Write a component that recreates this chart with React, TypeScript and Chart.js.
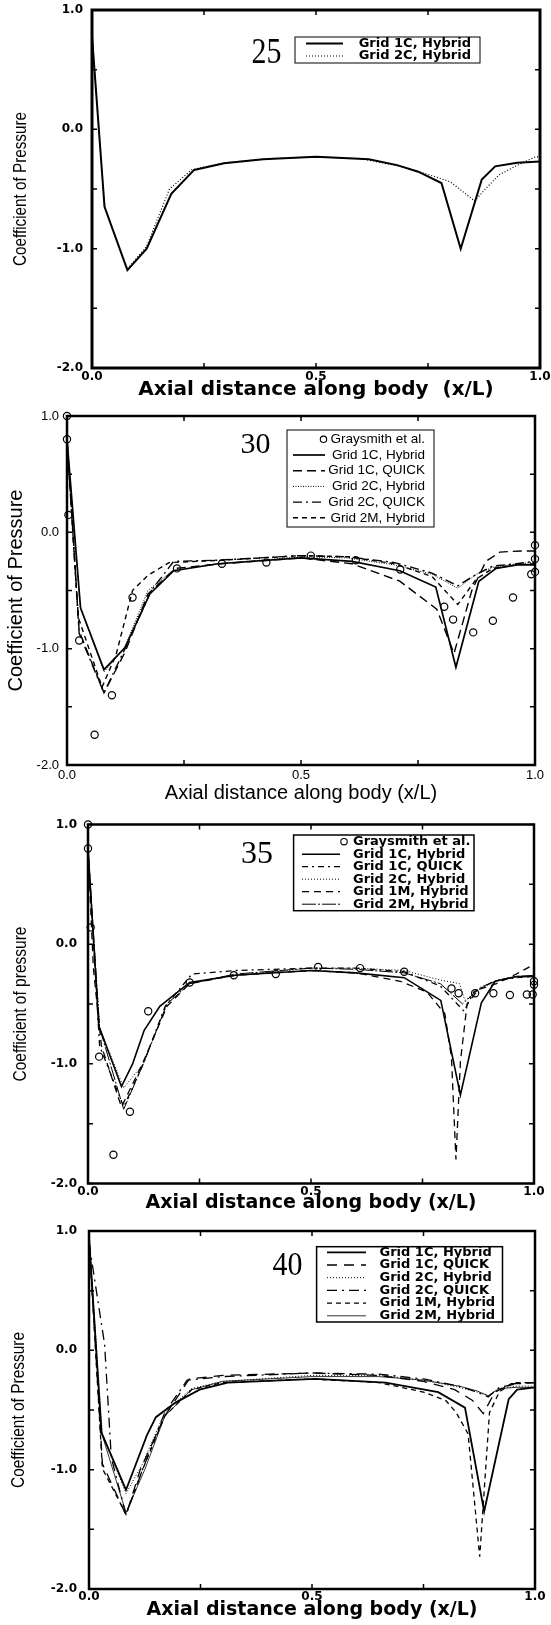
import React, { useEffect, useRef } from "react";
import { Chart, registerables } from "chart.js";
Chart.register(...registerables);

// ---------------- Panel 1 : "25" ----------------
const P1_X_G1C_HYB = [0, 0.028, 0.079, 0.122, 0.177, 0.228, 0.295, 0.382, 0.5, 0.618, 0.681, 0.728, 0.78, 0.823, 0.87, 0.9, 0.949, 1.0];
const P1_Y_G1C_HYB = [0.78, -0.65, -1.18, -1.0, -0.54, -0.34, -0.285, -0.25, -0.23, -0.25, -0.3, -0.355, -0.45, -1.0, -0.42, -0.31, -0.28, -0.27];
const P1_X_G2C_HYB = [0, 0.028, 0.079, 0.122, 0.173, 0.222, 0.295, 0.4, 0.5, 0.6, 0.7, 0.76, 0.8, 0.854, 0.878, 0.909, 0.95, 0.99, 1.0];
const P1_Y_G2C_HYB = [0.8, -0.65, -1.17, -0.98, -0.5, -0.34, -0.28, -0.245, -0.23, -0.245, -0.32, -0.39, -0.44, -0.6, -0.5, -0.38, -0.3, -0.23, -0.23];

// ---------------- Panel 2 : "30" ----------------
const P2_X_GRAY = [0, 0, 0.003, 0.026, 0.059, 0.096, 0.14, 0.235, 0.331, 0.426, 0.521, 0.617, 0.712, 0.806, 0.825, 0.868, 0.91, 0.953, 0.992, 1.0, 1.0, 1.0];
const P2_Y_GRAY = [1.0, 0.8, 0.15, -0.93, -1.74, -1.4, -0.56, -0.31, -0.27, -0.26, -0.2, -0.24, -0.32, -0.64, -0.75, -0.86, -0.76, -0.56, -0.36, -0.11, -0.23, -0.34];
const P2_X_G1C_HYB = [0, 0.029, 0.079, 0.124, 0.177, 0.228, 0.323, 0.5, 0.609, 0.711, 0.788, 0.831, 0.88, 0.917, 0.962, 1.0];
const P2_Y_G1C_HYB = [0.8, -0.65, -1.18, -0.99, -0.53, -0.33, -0.27, -0.22, -0.25, -0.33, -0.47, -1.16, -0.42, -0.31, -0.28, -0.28];
const P2_X_G1C_QCK = [0, 0.026, 0.079, 0.124, 0.173, 0.232, 0.33, 0.5, 0.609, 0.711, 0.79, 0.827, 0.865, 0.895, 0.925, 0.97, 1.0];
const P2_Y_G1C_QCK = [0.8, -0.85, -1.38, -1.03, -0.53, -0.31, -0.27, -0.22, -0.27, -0.42, -0.66, -1.04, -0.5, -0.25, -0.17, -0.16, -0.16];
const P2_X_G2C_HYB = [0, 0.028, 0.079, 0.122, 0.173, 0.225, 0.32, 0.5, 0.6, 0.7, 0.78, 0.835, 0.875, 0.91, 0.96, 1.0];
const P2_Y_G2C_HYB = [0.8, -0.64, -1.2, -1.0, -0.5, -0.33, -0.27, -0.21, -0.22, -0.28, -0.36, -0.48, -0.36, -0.3, -0.27, -0.26];
const P2_X_G2C_QCK = [0, 0.026, 0.079, 0.124, 0.18, 0.228, 0.32, 0.5, 0.6, 0.7, 0.78, 0.835, 0.875, 0.91, 0.96, 1.0];
const P2_Y_G2C_QCK = [0.8, -0.87, -1.38, -1.0, -0.5, -0.25, -0.24, -0.2, -0.21, -0.26, -0.35, -0.46, -0.36, -0.29, -0.27, -0.25];
const P2_X_G2M_HYB = [0, 0.024, 0.075, 0.105, 0.14, 0.173, 0.218, 0.33, 0.5, 0.6, 0.7, 0.78, 0.835, 0.875, 0.91, 0.96, 1.0];
const P2_Y_G2M_HYB = [0.8, -0.73, -1.33, -1.05, -0.5, -0.37, -0.26, -0.24, -0.2, -0.21, -0.27, -0.38, -0.62, -0.4, -0.31, -0.28, -0.27];

// ---------------- Panel 3 : "35" ----------------
const P3_X_GRAY = [0, 0, 0.006, 0.025, 0.057, 0.094, 0.135, 0.228, 0.327, 0.421, 0.516, 0.61, 0.709, 0.815, 0.831, 0.868, 0.909, 0.946, 0.984, 0.997, 1.0, 1.0];
const P3_Y_GRAY = [1.0, 0.8, 0.14, -0.94, -1.76, -1.4, -0.56, -0.32, -0.26, -0.25, -0.19, -0.2, -0.23, -0.37, -0.41, -0.41, -0.41, -0.425, -0.42, -0.42, -0.31, -0.34];
const P3_X_G1C_HYB = [0, 0.024, 0.075, 0.1, 0.126, 0.161, 0.228, 0.33, 0.5, 0.6, 0.709, 0.791, 0.835, 0.882, 0.913, 0.961, 1.0];
const P3_Y_G1C_HYB = [0.8, -0.68, -1.19, -1.0, -0.72, -0.52, -0.32, -0.26, -0.22, -0.24, -0.28, -0.47, -1.26, -0.49, -0.31, -0.27, -0.27];
const P3_X_G1C_QCK = [0, 0.026, 0.08, 0.124, 0.173, 0.233, 0.33, 0.5, 0.6, 0.709, 0.79, 0.843, 0.865, 0.91, 0.96, 1.0];
const P3_Y_G1C_QCK = [0.8, -0.85, -1.36, -1.0, -0.52, -0.25, -0.22, -0.2, -0.2, -0.23, -0.35, -0.56, -0.4, -0.31, -0.28, -0.27];
const P3_X_G2C_HYB = [0, 0.026, 0.08, 0.124, 0.177, 0.228, 0.33, 0.5, 0.6, 0.709, 0.79, 0.833, 0.845, 0.88, 0.92, 0.96, 1.0];
const P3_Y_G2C_HYB = [0.8, -0.7, -1.2, -1.0, -0.5, -0.33, -0.26, -0.2, -0.2, -0.22, -0.3, -0.33, -0.47, -0.37, -0.3, -0.28, -0.27];
const P3_X_G1M_HYB = [0, 0.012, 0.03, 0.075, 0.122, 0.177, 0.228, 0.33, 0.5, 0.6, 0.7, 0.76, 0.8, 0.815, 0.825, 0.835, 0.85, 0.875, 0.916, 0.96, 1.0];
const P3_Y_G1M_HYB = [0.8, -0.2, -0.85, -1.36, -1.0, -0.52, -0.33, -0.26, -0.22, -0.24, -0.31, -0.4, -0.58, -0.95, -1.8, -0.98, -0.5, -0.38, -0.33, -0.25, -0.17];
const P3_X_G2M_HYB = [0, 0.026, 0.08, 0.124, 0.177, 0.228, 0.33, 0.5, 0.6, 0.709, 0.79, 0.84, 0.88, 0.92, 0.96, 1.0];
const P3_Y_G2M_HYB = [0.8, -0.7, -1.38, -1.0, -0.5, -0.33, -0.25, -0.2, -0.21, -0.24, -0.33, -0.5, -0.36, -0.3, -0.27, -0.26];

// ---------------- Panel 4 : "40" ----------------
const P4_X_G1C_HYB = [0, 0.028, 0.083, 0.13, 0.15, 0.193, 0.248, 0.311, 0.508, 0.665, 0.783, 0.843, 0.886, 0.941, 0.96, 1.0];
const P4_Y_G1C_HYB = [0.95, -0.69, -1.17, -0.71, -0.56, -0.44, -0.33, -0.27, -0.24, -0.27, -0.35, -0.48, -1.35, -0.41, -0.33, -0.31];
const P4_X_G1C_QCK = [0, 0.03, 0.083, 0.115, 0.17, 0.225, 0.3, 0.5, 0.65, 0.75, 0.82, 0.86, 0.884, 0.91, 0.95, 1.0];
const P4_Y_G1C_QCK = [0.95, -0.95, -1.38, -1.0, -0.55, -0.24, -0.21, -0.19, -0.21, -0.26, -0.33, -0.42, -0.53, -0.35, -0.28, -0.27];
const P4_X_G2C_HYB = [0, 0.03, 0.083, 0.12, 0.17, 0.23, 0.3, 0.5, 0.65, 0.75, 0.83, 0.87, 0.895, 0.92, 0.96, 1.0];
const P4_Y_G2C_HYB = [0.95, -0.7, -1.2, -0.95, -0.52, -0.32, -0.26, -0.21, -0.21, -0.25, -0.31, -0.35, -0.38, -0.32, -0.3, -0.3];
const P4_X_G2C_QCK = [0, 0.035, 0.05, 0.083, 0.12, 0.17, 0.22, 0.3, 0.5, 0.65, 0.75, 0.83, 0.87, 0.895, 0.92, 0.96, 1.0];
const P4_Y_G2C_QCK = [0.9, 0.05, -0.9, -1.38, -1.0, -0.52, -0.25, -0.22, -0.19, -0.2, -0.24, -0.3, -0.35, -0.39, -0.31, -0.28, -0.27];
const P4_X_G1M_HYB = [0, 0.03, 0.083, 0.12, 0.17, 0.23, 0.3, 0.5, 0.65, 0.75, 0.8, 0.823, 0.85, 0.876, 0.898, 0.92, 0.95, 1.0];
const P4_Y_G1M_HYB = [0.95, -0.99, -1.375, -1.0, -0.55, -0.33, -0.27, -0.24, -0.27, -0.35, -0.42, -0.52, -0.7, -1.73, -0.52, -0.35, -0.27, -0.27];
const P4_X_G2M_HYB = [0, 0.028, 0.083, 0.125, 0.17, 0.23, 0.3, 0.5, 0.65, 0.75, 0.83, 0.87, 0.895, 0.92, 0.96, 1.0];
const P4_Y_G2M_HYB = [0.95, -0.69, -1.36, -1.0, -0.55, -0.33, -0.26, -0.22, -0.22, -0.25, -0.3, -0.34, -0.38, -0.32, -0.31, -0.31];

// ---------------- Axis tick marks ----------------
const Y_TICK_MARKS = [-2, -1.5, -1, -0.5, 0, 0.5, 1];
const X_TICK_MARKS = [0, 0.25, 0.5, 0.75, 1];

type Series = { label: string; xs: number[]; ys: number[]; dash: number[]; width: number; points?: boolean };
type PanelDef = {
  regionTop: number;
  regionH: number;
  area: { left: number; right: number; top: number; bottom: number };
  frameW: number;
  series: Series[];
  tickFont: any;
  xTickPad: number;
  yTickPad: number;
  xTitle: string;
  xTitleFont: any;
  xTitleY: number;
  yTitle: string;
  yTitleFont: any;
  yTitleX: number;
  yTitleLen?: number;
  legend: { x1: number; y1: number; x2: number; y2: number; rows: number[]; s1: number; s2: number; textX: number; align: "left" | "right"; font: string; boxW: number };
  tag: { text: string; x: number; y: number; size: number; sx: number };
};

const BOLD_WIDE = "'DejaVu Sans', Verdana, sans-serif";
const HELV = "'Liberation Sans', Arial, Helvetica, sans-serif";

const boldTick = { family: BOLD_WIDE, size: 12, weight: "bold", lineHeight: 1 };
const boldTitle = { family: BOLD_WIDE, size: 19, weight: "bold", lineHeight: 1 };
const narrowTitle = { family: HELV, size: 18.5, weight: "normal", lineHeight: 1 };

const PANELS: PanelDef[] = [
  {
    regionTop: 0,
    regionH: 405,
    area: { left: 92, right: 540, top: 10, bottom: 368 },
    frameW: 3,
    series: [
      { label: "Grid 1C, Hybrid", xs: P1_X_G1C_HYB, ys: P1_Y_G1C_HYB, dash: [], width: 2 },
      { label: "Grid 2C, Hybrid", xs: P1_X_G2C_HYB, ys: P1_Y_G2C_HYB, dash: [1, 2], width: 1.2 },
    ],
    tickFont: boldTick,
    xTickPad: 2.7,
    yTickPad: 9,
    xTitle: "Axial distance along body  (x/L)",
    xTitleFont: { ...boldTitle, size: 20 },
    xTitleY: 390,
    yTitle: "Coefficient of Pressure",
    yTitleFont: narrowTitle,
    yTitleX: 21,
    yTitleLen: 154,
    legend: { x1: 295, y1: 37, x2: 480, y2: 63, rows: [43.5, 56], s1: 306, s2: 343, textX: 358.7, align: "left", font: `bold 13px ${BOLD_WIDE}`, boxW: 1 },
    tag: { text: "25", x: 266.5, y: 51, size: 36, sx: 0.83 },
  },
  {
    regionTop: 405,
    regionH: 405,
    area: { left: 67, right: 535, top: 416, bottom: 765 },
    frameW: 2.5,
    series: [
      { label: "Graysmith et al.", xs: P2_X_GRAY, ys: P2_Y_GRAY, dash: [], width: 1.2, points: true },
      { label: "Grid 1C, Hybrid", xs: P2_X_G1C_HYB, ys: P2_Y_G1C_HYB, dash: [], width: 1.7 },
      { label: "Grid 1C, QUICK", xs: P2_X_G1C_QCK, ys: P2_Y_G1C_QCK, dash: [9, 5], width: 1.4 },
      { label: "Grid 2C, Hybrid", xs: P2_X_G2C_HYB, ys: P2_Y_G2C_HYB, dash: [1, 1.5], width: 1 },
      { label: "Grid 2C, QUICK", xs: P2_X_G2C_QCK, ys: P2_Y_G2C_QCK, dash: [9, 4, 2, 4], width: 1.4 },
      { label: "Grid 2M, Hybrid", xs: P2_X_G2M_HYB, ys: P2_Y_G2M_HYB, dash: [5, 4], width: 1.4 },
    ],
    tickFont: { family: HELV, size: 13, weight: "normal", lineHeight: 1 },
    xTickPad: 3.5,
    yTickPad: 8,
    xTitle: "Axial distance along body (x/L)",
    xTitleFont: { family: HELV, size: 20, weight: "normal", lineHeight: 1 },
    xTitleY: 793,
    yTitle: "Coefficient of Pressure",
    yTitleFont: { family: HELV, size: 20, weight: "normal", lineHeight: 1 },
    yTitleX: 16,
    legend: { x1: 287, y1: 430, x2: 434, y2: 527, rows: [439.3, 455, 470.7, 486.4, 502.1, 517.8], s1: 293, s2: 325, textX: 425, align: "right", font: `13.5px ${HELV}`, boxW: 1 },
    tag: { text: "30", x: 255.5, y: 443, size: 30, sx: 1 },
  },
  {
    regionTop: 810,
    regionH: 405,
    area: { left: 88, right: 534, top: 824.5, bottom: 1183.5 },
    frameW: 2.5,
    series: [
      { label: "Graysmith et al.", xs: P3_X_GRAY, ys: P3_Y_GRAY, dash: [], width: 1.2, points: true },
      { label: "Grid 1C, Hybrid", xs: P3_X_G1C_HYB, ys: P3_Y_G1C_HYB, dash: [], width: 1.6 },
      { label: "Grid 1C, QUICK", xs: P3_X_G1C_QCK, ys: P3_Y_G1C_QCK, dash: [6, 4, 2, 4], width: 1.3 },
      { label: "Grid 2C, Hybrid", xs: P3_X_G2C_HYB, ys: P3_Y_G2C_HYB, dash: [1, 2], width: 1 },
      { label: "Grid 1M, Hybrid", xs: P3_X_G1M_HYB, ys: P3_Y_G1M_HYB, dash: [7, 5], width: 1.3 },
      { label: "Grid 2M, Hybrid", xs: P3_X_G2M_HYB, ys: P3_Y_G2M_HYB, dash: [14, 2, 2, 2], width: 1 },
    ],
    tickFont: boldTick,
    xTickPad: 2.2,
    yTickPad: 11,
    xTitle: "Axial distance along body (x/L)",
    xTitleFont: boldTitle,
    xTitleY: 1203,
    yTitle: "Coefficient of pressure",
    yTitleFont: narrowTitle,
    yTitleX: 21,
    yTitleLen: 155,
    legend: { x1: 293.6, y1: 835, x2: 474, y2: 910.7, rows: [841.7, 854.2, 866.7, 879.2, 891.7, 904.2], s1: 302, s2: 340, textX: 353, align: "left", font: `bold 13px ${BOLD_WIDE}`, boxW: 1.5 },
    tag: { text: "35", x: 257, y: 852.5, size: 32, sx: 1 },
  },
  {
    regionTop: 1215,
    regionH: 410,
    area: { left: 89, right: 535, top: 1231, bottom: 1589 },
    frameW: 2.5,
    series: [
      { label: "Grid 1C, Hybrid", xs: P4_X_G1C_HYB, ys: P4_Y_G1C_HYB, dash: [], width: 1.8 },
      { label: "Grid 1C, QUICK", xs: P4_X_G1C_QCK, ys: P4_Y_G1C_QCK, dash: [10, 7], width: 1.3 },
      { label: "Grid 2C, Hybrid", xs: P4_X_G2C_HYB, ys: P4_Y_G2C_HYB, dash: [1, 2], width: 1 },
      { label: "Grid 2C, QUICK", xs: P4_X_G2C_QCK, ys: P4_Y_G2C_QCK, dash: [10, 5, 2, 5], width: 1.3 },
      { label: "Grid 1M, Hybrid", xs: P4_X_G1M_HYB, ys: P4_Y_G1M_HYB, dash: [5, 4], width: 1.3 },
      { label: "Grid 2M, Hybrid", xs: P4_X_G2M_HYB, ys: P4_Y_G2M_HYB, dash: [], width: 0.8 },
    ],
    tickFont: boldTick,
    xTickPad: 1.7,
    yTickPad: 12,
    xTitle: "Axial distance along body (x/L)",
    xTitleFont: boldTitle,
    xTitleY: 1610,
    yTitle: "Coefficient of Pressure",
    yTitleFont: narrowTitle,
    yTitleX: 18.5,
    yTitleLen: 156,
    legend: { x1: 316.6, y1: 1246.7, x2: 502.5, y2: 1322, rows: [1252.3, 1265, 1277.7, 1290.4, 1303.1, 1315.8], s1: 327, s2: 366, textX: 379.5, align: "left", font: `bold 13px ${BOLD_WIDE}`, boxW: 1.5 },
    tag: { text: "40", x: 287.5, y: 1263.3, size: 34, sx: 0.88 },
  },
];

function makeDeco(p: PanelDef) {
  return {
    id: "deco",
    afterDatasetsDraw(chart: any) {
      const { ctx, chartArea: a } = chart;
      const xs = chart.scales.x;
      const ys = chart.scales.y;
      const off = p.regionTop;
      ctx.save();
      ctx.strokeStyle = "#000";
      ctx.fillStyle = "#000";
      ctx.setLineDash([]);
      ctx.lineWidth = p.frameW;
      ctx.strokeRect(a.left, a.top, a.right - a.left, a.bottom - a.top);
      ctx.lineWidth = 1.5;
      ctx.beginPath();
      for (const v of Y_TICK_MARKS) {
        const py = ys.getPixelForValue(v);
        ctx.moveTo(a.left, py);
        ctx.lineTo(a.left + 5, py);
        ctx.moveTo(a.right - 5, py);
        ctx.lineTo(a.right, py);
      }
      for (const v of X_TICK_MARKS) {
        const px = xs.getPixelForValue(v);
        ctx.moveTo(px, a.top);
        ctx.lineTo(px, a.top + 5);
        ctx.moveTo(px, a.bottom - 5);
        ctx.lineTo(px, a.bottom);
      }
      ctx.stroke();

      if (p.yTitleLen) {
        const f = p.yTitleFont;
        ctx.save();
        ctx.font = `${f.weight} ${f.size}px ${f.family}`;
        const w = ctx.measureText(p.yTitle).width;
        ctx.translate(p.yTitleX, (a.top + a.bottom) / 2);
        ctx.rotate(-Math.PI / 2);
        ctx.scale(p.yTitleLen / w, 1);
        ctx.fillStyle = "#000";
        ctx.textAlign = "center";
        ctx.textBaseline = "middle";
        ctx.fillText(p.yTitle, 0, 0);
        ctx.restore();
      }

      const L = p.legend;
      ctx.fillStyle = "#fff";
      ctx.fillRect(L.x1, L.y1 - off, L.x2 - L.x1, L.y2 - L.y1);
      ctx.strokeStyle = "#000";
      ctx.lineWidth = L.boxW;
      ctx.strokeRect(L.x1, L.y1 - off, L.x2 - L.x1, L.y2 - L.y1);
      ctx.font = L.font;
      ctx.textBaseline = "middle";
      p.series.forEach((s, i) => {
        const yy = L.rows[i] - off;
        ctx.fillStyle = "#000";
        ctx.textAlign = L.align;
        ctx.fillText(s.label, L.textX, yy);
        if (s.points) {
          const w = ctx.measureText(s.label).width;
          const cx = L.align === "right" ? L.textX - w - 7 : L.textX - 9;
          ctx.setLineDash([]);
          ctx.lineWidth = 1.1;
          ctx.beginPath();
          ctx.arc(cx, yy, 3.2, 0, Math.PI * 2);
          ctx.stroke();
        } else {
          ctx.setLineDash(s.dash);
          ctx.lineWidth = s.width;
          ctx.beginPath();
          ctx.moveTo(L.s1, yy);
          ctx.lineTo(L.s2, yy);
          ctx.stroke();
          ctx.setLineDash([]);
        }
      });

      const t = p.tag;
      ctx.save();
      ctx.translate(t.x, t.y - off);
      ctx.scale(t.sx, 1);
      ctx.fillStyle = "#000";
      ctx.font = `${t.size}px 'Liberation Serif', 'Times New Roman', serif`;
      ctx.textAlign = "center";
      ctx.textBaseline = "alphabetic";
      ctx.fillText(t.text, 0, t.size * 0.34);
      ctx.restore();

      ctx.restore();
    },
  };
}

function buildConfig(p: PanelDef): any {
  const a = p.area;
  const regionBottom = p.regionTop + p.regionH;
  const fmt = (v: any) => Number(v).toFixed(1);
  return {
    type: "line",
    data: {
      datasets: p.series.map((s) => ({
        label: s.label,
        data: s.xs.map((x, i) => ({ x, y: s.ys[i] })),
        borderColor: "#000",
        backgroundColor: "rgba(0,0,0,0)",
        borderWidth: s.width,
        borderDash: s.dash,
        showLine: !s.points,
        pointRadius: s.points ? 3.6 : 0,
        pointHoverRadius: 0,
        pointBorderWidth: 1.2,
        pointBorderColor: "#000",
        pointBackgroundColor: "rgba(255,255,255,0)",
        tension: 0,
        fill: false,
        clip: s.points ? false : 3,
      })),
    },
    options: {
      responsive: false,
      maintainAspectRatio: false,
      animation: false,
      devicePixelRatio: 1,
      events: [],
      layout: { padding: { left: 0, right: 551 - a.right, top: a.top - p.regionTop, bottom: 0 } },
      plugins: { legend: { display: false }, tooltip: { enabled: false }, title: { display: false } },
      scales: {
        x: {
          type: "linear",
          min: 0,
          max: 1,
          grid: { display: false, drawTicks: false, tickLength: 0 },
          border: { display: false },
          ticks: { stepSize: 0.5, autoSkip: false, maxRotation: 0, minRotation: 0, color: "#000", font: p.tickFont, padding: p.xTickPad, callback: fmt },
          title: {
            display: true,
            text: p.xTitle,
            color: "#000",
            font: p.xTitleFont,
            padding: { top: 0, bottom: regionBottom - p.xTitleY - p.xTitleFont.size / 2 },
          },
          afterFit: (s: any) => {
            s.height = regionBottom - a.bottom;
            s.paddingLeft = 0;
            s.paddingRight = 0;
          },
        },
        y: {
          type: "linear",
          min: -2,
          max: 1,
          grid: { display: false, drawTicks: false, tickLength: 0 },
          border: { display: false },
          ticks: { stepSize: 1, autoSkip: false, color: "#000", font: p.tickFont, padding: p.yTickPad, callback: fmt },
          title: {
            display: !p.yTitleLen,
            text: p.yTitle,
            color: "#000",
            font: p.yTitleFont,
            padding: { top: p.yTitleX - p.yTitleFont.size / 2, bottom: 0 },
          },
          afterFit: (s: any) => {
            s.width = a.left;
            s.paddingTop = 0;
            s.paddingBottom = 0;
          },
        },
      },
    },
    plugins: [makeDeco(p)],
  };
}

function Panel({ p }: { p: PanelDef }) {
  const ref = useRef<HTMLCanvasElement>(null);
  useEffect(() => {
    const canvas = ref.current;
    if (!canvas) return;
    const chart = new Chart(canvas, buildConfig(p));
    return () => chart.destroy();
  }, [p]);
  return (
    <canvas
      ref={ref}
      width={551}
      height={p.regionH}
      style={{ position: "absolute", left: 0, top: p.regionTop, width: 551, height: p.regionH, display: "block" }}
    />
  );
}

export default function App() {
  return (
    <div style={{ position: "absolute", left: 0, top: 0, width: 551, height: 1625, background: "#fff", overflow: "hidden" }}>
      {PANELS.map((p, i) => (
        <Panel key={i} p={p} />
      ))}
    </div>
  );
}
